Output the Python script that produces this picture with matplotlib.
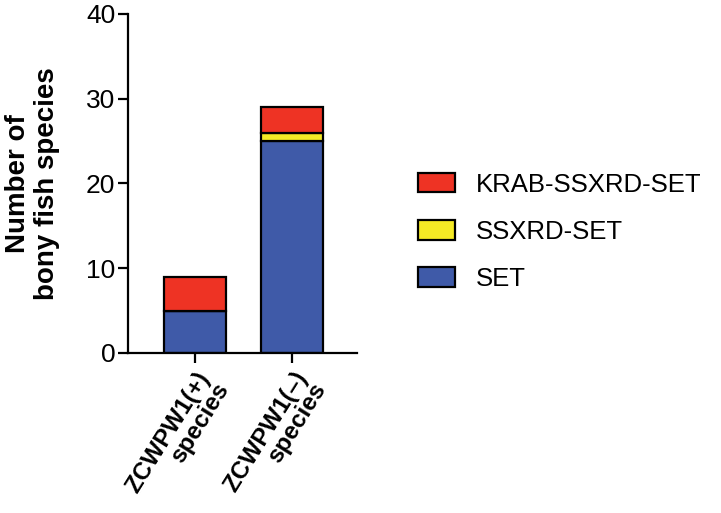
import matplotlib
matplotlib.use("Agg")
import matplotlib.pyplot as plt
import numpy as np

plt.rcParams['font.family'] = ['Liberation Sans', 'DejaVu Sans']

# ── Data ──────────────────────────────────────────────────
categories = ["ZCWPW1(+)\nspecies", "ZCWPW1(\u2013)\nspecies"]
set_vals   = [5, 25]
ssxrd_vals = [0, 1]
krab_vals  = [4, 3]

series_names  = ["SET", "SSXRD-SET", "KRAB-SSXRD-SET"]
series_colors = ["#3F5AA8", "#F5EA25", "#EE3324"]

# ── Plot ──────────────────────────────────────────────────
fig = plt.figure(figsize=(7.21, 5.13), dpi=100)
ax = fig.add_axes([0.1775, 0.312, 0.318, 0.661])

x = np.arange(len(categories))
bottom = np.zeros(len(categories))
handles = []
for vals, name, col in zip([set_vals, ssxrd_vals, krab_vals],
                           series_names, series_colors):
    vals = np.array(vals, dtype=float)
    b = ax.bar(x, vals, bottom=bottom, width=0.64, color=col,
               edgecolor="black", linewidth=1.6, label=name)
    handles.append(b)
    bottom += vals

ax.set_xlim(-0.69, 1.67)
ax.set_ylim(0, 40)
ax.set_yticks([0, 10, 20, 30, 40])
ax.spines["top"].set_visible(False)
ax.spines["right"].set_visible(False)
ax.spines["left"].set_linewidth(1.6)
ax.spines["bottom"].set_linewidth(1.6)
ax.tick_params(axis="both", width=1.6, length=7, labelsize=19)
ax.tick_params(axis="y", pad=2)
ax.set_xticks(x)
ax.set_xticklabels(categories, rotation=58, ha="right",
                   rotation_mode="anchor", fontweight="bold",
                   fontsize=17.5, linespacing=0.95)
ax.set_ylabel("Number of\nbony fish species", fontsize=20,
              fontweight="bold", labelpad=19, linespacing=1.15)

fig.legend(handles[::-1], series_names[::-1], loc="center left",
           bbox_to_anchor=(0.548, 0.548), frameon=False, fontsize=18.5,
           handlelength=1.44, handleheight=0.78, labelspacing=0.9,
           handletextpad=0.82)

plt.savefig("out.png", dpi=100)
plt.close()
